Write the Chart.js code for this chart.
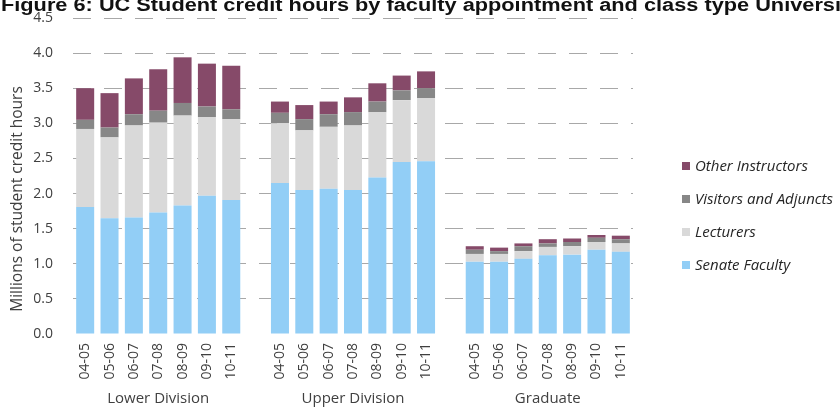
<!DOCTYPE html>
<html>
<head>
<meta charset="utf-8">
<script src="https://cdn.jsdelivr.net/npm/chart.js@4.4.1/dist/chart.umd.min.js"></script>
<style>
  html, body { margin: 0; padding: 0; background: #ffffff; overflow: hidden; }
  #wrap { position: relative; width: 840px; height: 409px; }
</style>
</head>
<body>
<div id="wrap"><canvas id="c" width="840" height="409"></canvas></div>
<script>
// ---- Data (millions of student credit hours) ----
const years = ['04-05', '05-06', '06-07', '07-08', '08-09', '09-10', '10-11'];
const groups = ['Lower Division', 'Upper Division', 'Graduate'];
const seriesNames = ['Senate Faculty', 'Lecturers', 'Visitors and Adjuncts', 'Other Instructors'];

const senateLower = [1.81, 1.65, 1.66, 1.73, 1.83, 1.97, 1.91];
const senateUpper = [2.15, 2.05, 2.07, 2.05, 2.23, 2.45, 2.46];
const senateGrad  = [1.03, 1.03, 1.07, 1.12, 1.13, 1.20, 1.17];

const lecturersLower = [1.11, 1.15, 1.31, 1.28, 1.28, 1.12, 1.15];
const lecturersUpper = [0.85, 0.85, 0.88, 0.92, 0.93, 0.88, 0.90];
const lecturersGrad  = [0.11, 0.11, 0.11, 0.12, 0.12, 0.11, 0.12];

const visitorsLower = [0.13, 0.14, 0.16, 0.17, 0.18, 0.15, 0.14];
const visitorsUpper = [0.15, 0.16, 0.18, 0.19, 0.15, 0.14, 0.14];
const visitorsGrad  = [0.06, 0.04, 0.07, 0.05, 0.06, 0.06, 0.06];

const otherLower = [0.45, 0.49, 0.51, 0.59, 0.65, 0.61, 0.62];
const otherUpper = [0.16, 0.20, 0.18, 0.21, 0.26, 0.21, 0.24];
const otherGrad  = [0.05, 0.05, 0.04, 0.06, 0.05, 0.04, 0.05];

const yTicks = [0, 0.5, 1.0, 1.5, 2.0, 2.5, 3.0, 3.5, 4.0, 4.5];

// ---- Build category layout: three groups separated by one empty slot ----
function joinGroups(a, b, c) { return a.concat([null], b, [null], c); }
const labels = joinGroups(years, years, years).map(v => v === null ? '' : v);
const groupLabelAt = {};
groups.forEach((g, i) => { groupLabelAt[i * (years.length + 1) + 3] = g; });

const colors = {
  'Senate Faculty': '#92CEF6',
  'Lecturers': '#D9D9D9',
  'Visitors and Adjuncts': '#878787',
  'Other Instructors': '#864A69'
};

const datasets = [
  { label: 'Senate Faculty', data: joinGroups(senateLower, senateUpper, senateGrad) },
  { label: 'Lecturers', data: joinGroups(lecturersLower, lecturersUpper, lecturersGrad) },
  { label: 'Visitors and Adjuncts', data: joinGroups(visitorsLower, visitorsUpper, visitorsGrad) },
  { label: 'Other Instructors', data: joinGroups(otherLower, otherUpper, otherGrad) }
].map(d => Object.assign(d, {
  backgroundColor: colors[d.label],
  borderWidth: 0,
  categoryPercentage: 1.0,
  barPercentage: 0.74
}));

const FONT = '"Open Sans", "Noto Sans", sans-serif';
const TEXT = '#404040';

// Title (cut off at the top like the reference), y-axis title and legend
const decorations = {
  id: 'decorations',
  afterDraw(chart) {
    const ctx = chart.ctx;
    ctx.save();
    // Title
    const title = 'Figure 6: UC Student credit hours by faculty appointment and class type Universitywide';
    ctx.font = 'bold 18px "Liberation Sans", Arial, sans-serif';
    ctx.fillStyle = '#111111';
    ctx.textAlign = 'left';
    ctx.textBaseline = 'alphabetic';
    const vis = 'Figure 6: UC Student credit hours by faculty appointment and class type Universi';
    const w = ctx.measureText(vis).width;
    ctx.save();
    ctx.translate(1, 11);
    ctx.scale(840 / w, 1);
    ctx.fillText(title, 0, 0);
    ctx.restore();

    // Y-axis title
    ctx.save();
    ctx.font = '15.5px ' + FONT;
    ctx.fillStyle = TEXT;
    ctx.translate(18, 199);
    ctx.rotate(-Math.PI / 2);
    ctx.textAlign = 'center';
    ctx.textBaseline = 'middle';
    ctx.fillText('Millions of student credit hours', 0, 0);
    ctx.restore();

    // Legend (reverse order, top = Other Instructors)
    const order = seriesNames.slice().reverse();
    ctx.font = 'italic 15px ' + FONT;
    ctx.textBaseline = 'middle';
    ctx.textAlign = 'left';
    order.forEach((name, i) => {
      const y = 166 + i * 33;
      ctx.fillStyle = colors[name];
      ctx.fillRect(682, y - 4, 8, 8);
      ctx.fillStyle = '#262626';
      ctx.fillText(name, 695, y + 1);
    });
    ctx.restore();
  }
};

new Chart(document.getElementById('c'), {
  type: 'bar',
  data: { labels: labels, datasets: datasets },
  options: {
    responsive: false,
    animation: false,
    layout: { padding: { left: 13, right: 207, top: 18, bottom: 0 } },
    plugins: {
      legend: { display: false },
      tooltip: { enabled: false },
      title: { display: false }
    },
    scales: {
      x: {
        stacked: true,
        grid: { display: false, drawTicks: false },
        border: { display: false },
        afterFit: (s) => { s.height = 50; },
        ticks: {
          autoSkip: false,
          minRotation: 90,
          maxRotation: 90,
          padding: 9,
          color: TEXT,
          font: { family: FONT, size: 14 }
        }
      },
      x2: {
        type: 'category',
        position: 'bottom',
        grid: { display: false, drawTicks: false },
        border: { display: false },
        afterFit: (s) => { s.height = 25; },
        ticks: {
          autoSkip: false,
          maxRotation: 0,
          minRotation: 0,
          padding: 6,
          color: TEXT,
          font: { family: FONT, size: 15 },
          callback: (v, i) => groupLabelAt[i] || ''
        }
      },
      y: {
        stacked: true,
        min: 0,
        max: 4.5,
        afterBuildTicks: (axis) => { axis.ticks = yTicks.map(v => ({ value: v })); },
        afterFit: (s) => { s.width = 60; },
        border: { display: false, dash: [18, 13] },
        grid: {
          drawTicks: true,
          tickLength: 20,
          tickColor: 'rgba(0,0,0,0)',
          color: (c) => (c.tick && c.tick.value === 0) ? 'rgba(0,0,0,0)' : '#A8A8A8',
          lineWidth: 1
        },
        ticks: {
          padding: 0,
          color: TEXT,
          font: { family: FONT, size: 14 },
          callback: (v) => Number(v).toFixed(1)
        }
      }
    }
  },
  plugins: [decorations]
});
</script>
</body>
</html>
